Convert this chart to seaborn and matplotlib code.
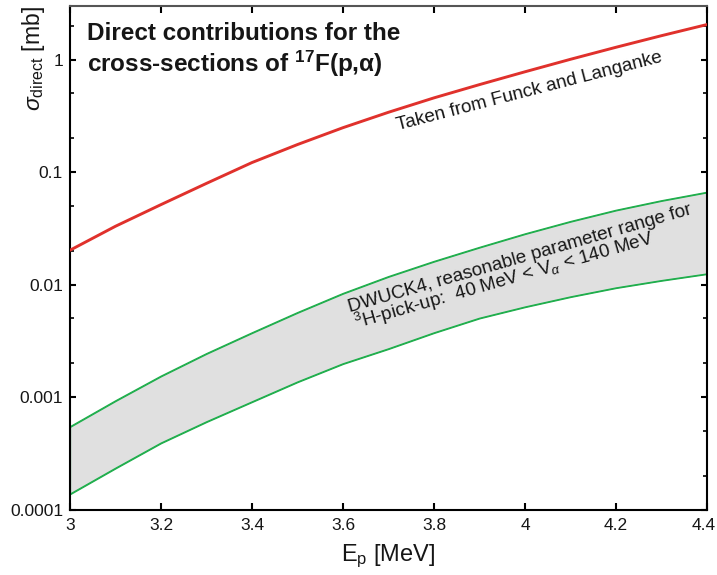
import numpy as np
import pandas as pd
import matplotlib
matplotlib.use("Agg")
import matplotlib.pyplot as plt
import matplotlib.transforms as mtransforms
import seaborn as sns

# Data
energy = [3.0, 3.1, 3.2, 3.3, 3.4, 3.5, 3.6, 3.7, 3.8, 3.9, 4.0, 4.1, 4.2, 4.3, 4.4]
sigma_funck = [0.0202, 0.0330, 0.0514, 0.0794, 0.1216, 0.1758, 0.2483, 0.3404,
               0.4571, 0.5998, 0.7798, 1.007, 1.288, 1.633, 2.051]
sigma_dwuck_upper = [0.000543, 0.000923, 0.001531, 0.002427, 0.003715, 0.005623,
                     0.008318, 0.01175, 0.01603, 0.02138, 0.02818, 0.03631,
                     0.04571, 0.05559, 0.06607]
sigma_dwuck_lower = [0.0001368, 0.0002323, 0.000389, 0.000601, 0.000904, 0.001358,
                     0.001972, 0.002679, 0.003715, 0.005012, 0.00631, 0.007762,
                     0.00933, 0.01084, 0.01242]
xtick_vals = [3.0, 3.2, 3.4, 3.6, 3.8, 4.0, 4.2, 4.4]
xtick_labels = ["3", "3.2", "3.4", "3.6", "3.8", "4", "4.2", "4.4"]
ytick_vals = [1e-4, 1e-3, 1e-2, 1e-1, 1]
ytick_labels = ["0.0001", "0.001", "0.01", "0.1", "1"]

sns.set_style("ticks")
plt.rcParams["font.family"] = ["Liberation Sans", "DejaVu Sans"]
plt.rcParams["mathtext.fontset"] = "custom"
plt.rcParams["mathtext.rm"] = "Liberation Sans"
plt.rcParams["mathtext.it"] = "Liberation Sans:italic"
plt.rcParams["mathtext.bf"] = "Liberation Sans:bold"

df = pd.DataFrame({"E": energy, "funck": sigma_funck,
                   "up": sigma_dwuck_upper, "lo": sigma_dwuck_lower})

fig = plt.figure(figsize=(7.17, 5.75), dpi=100)
ax = fig.add_axes([0.0976, 0.1139, 0.8884, 0.8757])

GREEN = "#1fae4c"
RED = "#e0312c"
TXT = "#161616"

ax.fill_between(df["E"], df["lo"], df["up"], facecolor="#e0e0e0",
                edgecolor=GREEN, linewidth=0.9, zorder=1)
sns.lineplot(data=df, x="E", y="up", color=GREEN, linewidth=0.9, ax=ax, zorder=2)
sns.lineplot(data=df, x="E", y="lo", color=GREEN, linewidth=0.9, ax=ax, zorder=2)
sns.lineplot(data=df, x="E", y="funck", color=RED, linewidth=2.1, ax=ax, zorder=3)

ax.set_yscale("log")
ax.set_xlim(3.0, 4.4)
ax.set_ylim(1e-4, 3.0)

ax.set_xticks(xtick_vals)
ax.set_xticklabels(xtick_labels, fontsize=12.5, color=TXT)
ax.set_yticks(ytick_vals)
ax.set_yticklabels(ytick_labels, fontsize=12.5, color=TXT)
ax.yaxis.set_minor_locator(matplotlib.ticker.LogLocator(base=10, subs=[2, 5]))
ax.yaxis.set_minor_formatter(matplotlib.ticker.NullFormatter())
ax.tick_params(axis="x", which="major", direction="in", length=5, width=1.5,
               top=True, bottom=True, color="black", pad=6)
ax.tick_params(axis="y", which="major", direction="in", length=4, width=1.5,
               left=True, right=True, color="black", pad=5)
ax.tick_params(axis="y", which="minor", direction="in", length=2.8, width=1.2,
               left=True, right=True, color="black")
for s in ax.spines.values():
    s.set_linewidth(1.5)
    s.set_color("black")
ax.spines["top"].set_color("#555555")

# nudge the last x tick label so it stays inside the canvas
last = ax.get_xticklabels()[-1]
last.set_transform(last.get_transform() +
                   mtransforms.ScaledTranslation(-3 / 100, 0, fig.dpi_scale_trans))

ax.set_xlabel(r"E$_\mathrm{p}$ [MeV]", fontsize=17, labelpad=7, color=TXT)
ax.set_ylabel(r"$\sigma_\mathrm{direct}$ [mb]", fontsize=16.5, loc="top", color=TXT)
ax.yaxis.set_label_coords(-0.036, 1.0)

# Title
ax.text(0.0267, 0.9325, "Direct contributions for the", transform=ax.transAxes,
        fontsize=17.5, fontweight="bold", ha="left", va="baseline", color=TXT)
ax.text(0.0267, 0.869, r"cross-sections of $^{\mathbf{17}}$F(p,$\mathbf{\alpha}$)",
        transform=ax.transAxes,
        fontsize=17.5, fontweight="bold", ha="left", va="baseline", color=TXT)

# Annotations
ax.text((398 - 70) / 637, (509.5 - 130) / 503.5, "Taken from Funck and Langanke",
        transform=ax.transAxes, fontsize=13.6, rotation=14.5, rotation_mode="anchor",
        ha="left", va="baseline", color=TXT)
ax.text((350 - 70) / 637, (509.5 - 312) / 503.5, "DWUCK4, reasonable parameter range for",
        transform=ax.transAxes, fontsize=13.6, rotation=16, rotation_mode="anchor",
        ha="left", va="baseline", color=TXT)
ax.text((356 - 70) / 637, (509.5 - 329) / 503.5,
        r"$^{3}$H-pick-up:  40 MeV < V$_{\alpha}$ < 140 MeV",
        transform=ax.transAxes, fontsize=13.6, rotation=16, rotation_mode="anchor",
        ha="left", va="baseline", color=TXT)

fig.savefig("out.png", dpi=100)
